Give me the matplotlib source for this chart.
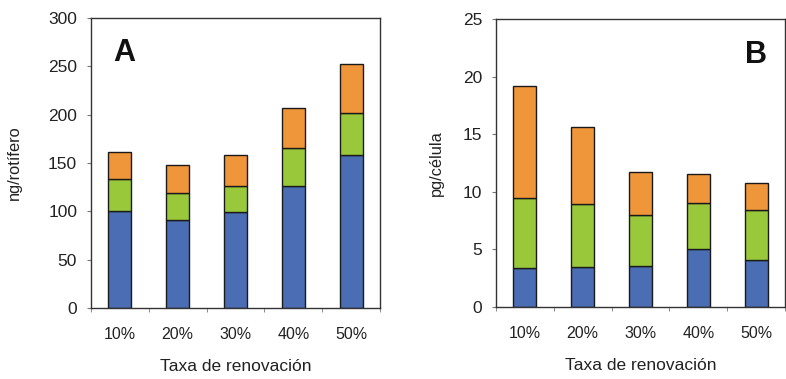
import matplotlib
matplotlib.use("Agg")
import matplotlib.pyplot as plt
import numpy as np

plt.rcParams['font.family'] = ['Liberation Sans', 'DejaVu Sans']

categories = ["10%", "20%", "30%", "40%", "50%"]

# Panel A: ng/rotífero, stacked segment sizes
a_blue = [100, 91, 99, 126, 158]
a_green = [33, 28, 27, 40, 44]
a_orange = [28, 29, 32, 41, 51]

# Panel B: pg/célula, stacked segment sizes
b_blue = [3.4, 3.5, 3.6, 5.0, 4.1]
b_green = [6.1, 5.4, 4.4, 4.0, 4.3]
b_orange = [9.7, 6.7, 3.7, 2.5, 2.4]

colors = ["#4a6db4", "#99c93a", "#f0963a"]

fig = plt.figure(figsize=(7.86, 3.79), dpi=100)
axA = fig.add_axes([0.1158, 0.1873, 0.3677, 0.765])
axB = fig.add_axes([0.631, 0.19, 0.3677, 0.76])


def draw(ax, series, ymax, ystep, ylabel, letter, lx, ly, ylab_x):
    x = np.arange(len(categories))
    bottom = np.zeros(len(categories))
    for vals, c in zip(series, colors):
        ax.bar(x, vals, width=0.4, bottom=bottom, color=c,
               edgecolor="#1a1a1a", linewidth=1.0, zorder=2)
        bottom += np.array(vals)
    ax.set_xlim(-0.5, len(categories) - 0.5)
    ax.set_ylim(0, ymax)
    ax.set_yticks(np.arange(0, ymax + ystep / 2, ystep))
    ax.set_xticks(x)
    ax.set_xticklabels(categories)
    ax.set_xticks(np.arange(-0.5, len(categories), 1), minor=True)
    ax.tick_params(axis="x", which="major", length=0, pad=14,
                   labelsize=11.5, colors="#222222")
    ax.tick_params(axis="x", which="minor", length=3, direction="out",
                   color="#777777")
    ax.tick_params(axis="y", length=3, direction="out", labelsize=12.5,
                   color="#777777", labelcolor="#222222", pad=7)
    for s in ax.spines.values():
        s.set_color("#333333")
        s.set_linewidth(1.0)
    ax.set_ylabel(ylabel, fontsize=11.8, color="#222222")
    ax.yaxis.set_label_coords(ylab_x, 0.5)
    ax.set_xlabel("Taxa de renovación", fontsize=12.5, color="#222222",
                  labelpad=12)
    ax.text(lx, ly, letter, transform=ax.transAxes, fontsize=22,
            fontweight="bold", ha="center", va="center", color="#111111")


draw(axA, [a_blue, a_green, a_orange], 300, 50, "ng/rotífero", "A",
     0.114, 0.88, (22 - 91) / 289)
draw(axB, [b_blue, b_green, b_orange], 25, 5, "pg/célula", "B",
     0.90, 0.875, (444 - 496) / 289)

fig.savefig("out.png", dpi=100)
